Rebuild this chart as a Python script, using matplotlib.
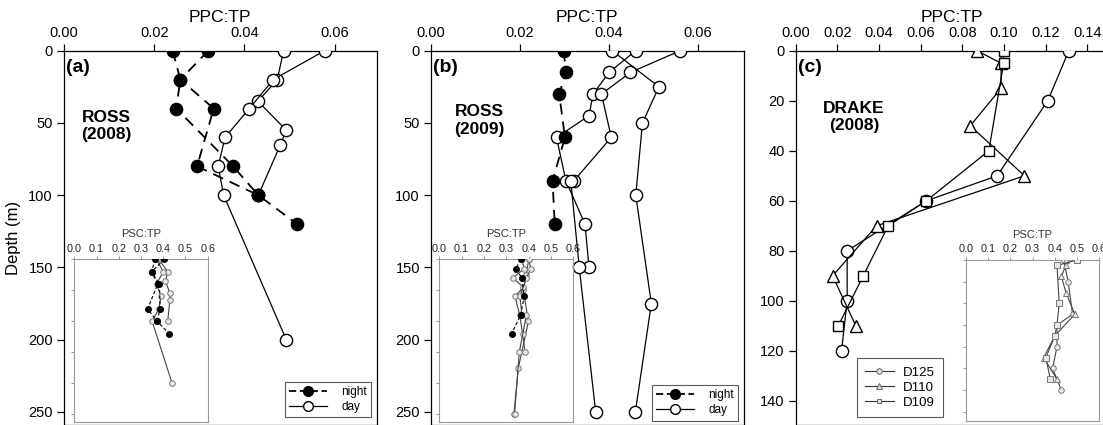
import matplotlib
matplotlib.use("Agg")
import matplotlib.pyplot as plt
from matplotlib.lines import Line2D
from matplotlib.ticker import FormatStrFormatter, MultipleLocator

plt.rcParams['font.family'] = ['Liberation Sans', 'DejaVu Sans']

# ---------------- Panel (a) ROSS 2008 : PPC:TP ----------------
a_night1_depth = [0, 20, 40, 80, 100]
a_night1_ppc = [0.0241, 0.0258, 0.0249, 0.0375, 0.0431]
a_night2_depth = [0, 20, 40, 80, 100, 120]
a_night2_ppc = [0.0320, 0.0258, 0.0332, 0.0295, 0.0431, 0.0517]
a_day1_depth = [0, 20, 35, 55, 65, 100]
a_day1_ppc = [0.0487, 0.0473, 0.0430, 0.0493, 0.0480, 0.0431]
a_day2_depth = [0, 20, 40, 60, 80, 100, 200]
a_day2_ppc = [0.0578, 0.0464, 0.0411, 0.0357, 0.0342, 0.0354, 0.0493]
# inset (a) PSC:TP
a_night1_psc = [0.363, 0.348, 0.383, 0.386, 0.372]
a_night2_psc = [0.405, 0.348, 0.375, 0.330, 0.372, 0.428]
a_day1_psc = [0.38, 0.42, 0.41, 0.43, 0.43, 0.42]
a_day2_psc = [0.37, 0.40, 0.37, 0.39, 0.38, 0.35, 0.44]

# ---------------- Panel (b) ROSS 2009 ----------------
b_night_depth = [0, 15, 30, 60, 90, 120]
b_night_ppc = [0.0298, 0.0303, 0.0288, 0.0301, 0.0273, 0.0278]
b_day1_depth = [0, 25, 50, 100, 175, 250]
b_day1_ppc = [0.0407, 0.0512, 0.0475, 0.0460, 0.0495, 0.0459]
b_day2_depth = [0, 15, 30, 45, 60, 90, 120, 150]
b_day2_ppc = [0.0460, 0.0400, 0.0364, 0.0355, 0.0282, 0.0303, 0.0346, 0.0355]
b_day3_depth = [0, 15, 30, 60, 90, 90, 150, 250]
b_day3_ppc = [0.0560, 0.0448, 0.0383, 0.0405, 0.0321, 0.0314, 0.0333, 0.0370]
# inset (b)
b_night_psc = [0.364, 0.343, 0.369, 0.380, 0.364, 0.324]
b_day1_psc = [0.40, 0.39, 0.376, 0.399, 0.354, 0.334]
b_day2_psc = [0.37, 0.38, 0.33, 0.376, 0.339, 0.36, 0.373, 0.384]
b_day3_psc = [0.40, 0.41, 0.39, 0.361, 0.37, 0.39, 0.358, 0.337]

# ---------------- Panel (c) DRAKE 2008 ----------------
c_d125_depth = [0, 20, 50, 60, 80, 100, 120]
c_d125_ppc = [0.1311, 0.1210, 0.0967, 0.0627, 0.0247, 0.0247, 0.0220]
c_d110_depth = [0, 5, 15, 30, 50, 70, 90, 110]
c_d110_ppc = [0.0871, 0.0986, 0.0986, 0.0838, 0.1098, 0.0388, 0.0177, 0.0289]
c_d109_depth = [0, 5, 40, 60, 70, 90, 110]
c_d109_ppc = [0.0998, 0.0998, 0.0927, 0.0627, 0.0444, 0.0324, 0.0204]
# inset (c)
c_d125_psc = [0.44, 0.46, 0.48, 0.41, 0.41, 0.39, 0.43]
c_d110_psc = [0.45, 0.45, 0.43, 0.45, 0.49, 0.40, 0.35, 0.41]
c_d109_psc = [0.50, 0.41, 0.42, 0.41, 0.40, 0.36, 0.38]

W, H = 1103, 425
fig = plt.figure(figsize=(W / 100, H / 100), dpi=100)


def fx(px):
    return px / W


def fy(py):
    return 1 - py / H


AX_W = 312.5
TOP = 50.7


def main_axes(left_px, xmax, ymax, yticks, xticks):
    ax = fig.add_axes([fx(left_px), 0, AX_W / W, fy(TOP)])
    ax.set_xlim(0, xmax)
    ax.set_ylim(ymax, 0)
    ax.xaxis.tick_top()
    ax.set_xticks(xticks)
    ax.xaxis.set_major_formatter(FormatStrFormatter('%.2f'))
    ax.set_yticks(yticks)
    ax.tick_params(axis='both', labelsize=10.5, length=5, width=0.9, direction='out')
    ax.tick_params(axis='x', pad=3)
    ax.tick_params(axis='y', pad=3)
    for s in ax.spines.values():
        s.set_linewidth(0.9)
    ax.text(0.5, 1 + (TOP - 17) / (H - TOP), 'PPC:TP', transform=ax.transAxes,
            ha='center', va='center', fontsize=12.5)
    return ax


night_kw = dict(color='black', lw=1.3, dashes=(6, 4), marker='o', ms=8.8,
                mfc='black', mec='black', zorder=4)
day_kw = dict(color='black', lw=0.9, marker='o', ms=8.8, mfc='white',
              mec='black', mew=1.0, zorder=3)


def inset_axes(left_px, right_px, top_px, bottom_px, ymax, ystep):
    ia = fig.add_axes([fx(left_px), fy(bottom_px), (right_px - left_px) / W,
                       (bottom_px - top_px) / H])
    ia.set_facecolor('none')
    ia.set_xlim(0, 0.6)
    ia.set_ylim(ymax, 0)
    ia.xaxis.tick_top()
    ia.set_xticks([0, 0.1, 0.2, 0.3, 0.4, 0.5, 0.6])
    ia.xaxis.set_major_formatter(FormatStrFormatter('%.1f'))
    ia.yaxis.set_major_locator(MultipleLocator(ystep))
    ia.set_yticklabels([])
    ia.tick_params(axis='both', labelsize=7.8, length=2, width=0.6,
                   color='#888888', pad=2, labelcolor='#222222')
    for s in ia.spines.values():
        s.set_linewidth(0.8)
        s.set_color('#999999')
    ia.set_title('PSC:TP', fontsize=8, pad=5, color='#333333')
    return ia


in_night_kw = dict(color='black', lw=0.8, dashes=(3, 2), marker='o', ms=4,
                   mfc='black', mec='black', zorder=4)
in_day_kw = dict(color='#444444', lw=0.8, marker='o', ms=4, mfc='#e8e8e8',
                 mec='#777777', mew=0.7, zorder=3)

# ================= (a) =================
ax = main_axes(64, 0.0693, 259.0, [0, 50, 100, 150, 200, 250], [0, 0.02, 0.04, 0.06])
ax.plot(a_day1_ppc, a_day1_depth, **day_kw)
ax.plot(a_day2_ppc, a_day2_depth, **day_kw)
ax.plot(a_night1_ppc, a_night1_depth, **night_kw)
ax.plot(a_night2_ppc, a_night2_depth, **night_kw)
ax.text(0.006, (H - 68) / (H - TOP), '(a)', transform=ax.transAxes, ha='left',
        va='center', fontsize=14, fontweight='bold')
ax.text(0.137, 0.799, 'ROSS\n(2008)', transform=ax.transAxes, ha='center',
        va='center', fontsize=12.5, fontweight='bold', linespacing=1.2)
h_night = Line2D([], [], color='black', lw=1.3, dashes=(4, 2), marker='o', ms=7,
                 mfc='black', mec='black')
h_day = Line2D([], [], color='black', lw=0.9, marker='o', ms=7, mfc='white', mec='black')
leg_kw = dict(loc='lower right', fontsize=8.5, frameon=True, fancybox=False,
              edgecolor='#333333', handlelength=3.2, borderaxespad=0,
              borderpad=0.35, labelspacing=0.25, handletextpad=1.2)
leg = ax.legend([h_night, h_day], ['night', 'day'], bbox_to_anchor=(0.983, 0.022), **leg_kw)
leg.get_frame().set_linewidth(0.8)

ia = inset_axes(74.3, 207.7, 259.3, 421.7, 262, 50)
ia.plot(a_day1_psc, a_day1_depth, **in_day_kw)
ia.plot(a_day2_psc, a_day2_depth, **in_day_kw)
ia.plot(a_night1_psc, a_night1_depth, **in_night_kw)
ia.plot(a_night2_psc, a_night2_depth, **in_night_kw)

fig.text(fx(14), fy(238), 'Depth (m)', rotation=90, ha='center', va='center', fontsize=12)

# ================= (b) =================
bx = main_axes(431, 0.0702, 259.0, [0, 50, 100, 150, 200, 250], [0, 0.02, 0.04, 0.06])
bx.plot(b_day1_ppc, b_day1_depth, **day_kw)
bx.plot(b_day2_ppc, b_day2_depth, **day_kw)
bx.plot(b_day3_ppc, b_day3_depth, **day_kw)
bx.plot(b_night_ppc, b_night_depth, **night_kw)
bx.text(0.006, (H - 67) / (H - TOP), '(b)', transform=bx.transAxes, ha='left',
        va='center', fontsize=14, fontweight='bold')
bx.text(0.154, 0.814, 'ROSS\n(2009)', transform=bx.transAxes, ha='center',
        va='center', fontsize=12.5, fontweight='bold', linespacing=1.2)
leg = bx.legend([h_night, h_day], ['night', 'day'], bbox_to_anchor=(0.983, 0.012), **leg_kw)
leg.get_frame().set_linewidth(0.8)

ib = inset_axes(439.3, 573.3, 259.3, 421.7, 262, 50)
ib.plot(b_day1_psc, b_day1_depth, **in_day_kw)
ib.plot(b_day2_psc, b_day2_depth, **in_day_kw)
ib.plot(b_day3_psc, b_day3_depth, **in_day_kw)
ib.plot(b_night_psc, b_night_depth, **in_night_kw)

# ================= (c) =================
cx = main_axes(795.7, 0.15, 149.6, [0, 20, 40, 60, 80, 100, 120, 140],
               [0, 0.02, 0.04, 0.06, 0.08, 0.10, 0.12, 0.14])
ckw = dict(color='black', lw=0.9, mfc='white', mec='black', mew=1.0, zorder=3)
cx.plot(c_d125_ppc, c_d125_depth, marker='o', ms=8.8, **ckw)
cx.plot(c_d110_ppc, c_d110_depth, marker='^', ms=9, **ckw)
cx.plot(c_d109_ppc, c_d109_depth, marker='s', ms=7, **ckw)
cx.text(0.008, (H - 67) / (H - TOP), '(c)', transform=cx.transAxes, ha='left',
        va='center', fontsize=14, fontweight='bold')
cx.text(0.186, 0.823, 'DRAKE\n(2008)', transform=cx.transAxes, ha='center',
        va='center', fontsize=12.5, fontweight='bold', linespacing=1.2)
lkw = dict(color='#333333', lw=0.8, mfc='#dddddd', mec='#666666', mew=0.7)
hc = [Line2D([], [], marker='o', ms=4, **lkw),
      Line2D([], [], marker='^', ms=4, **lkw),
      Line2D([], [], marker='s', ms=3.5, **lkw)]
leg = cx.legend(hc, ['D125', 'D110', 'D109'], loc='lower left',
                bbox_to_anchor=(0.195, 0.022), fontsize=9.5, frameon=True,
                fancybox=False, edgecolor='#333333', handlelength=2.2,
                borderaxespad=0, borderpad=0.6, labelspacing=0.22,
                handletextpad=0.7)
leg.get_frame().set_linewidth(0.8)

ic = inset_axes(965.7, 1099.3, 260, 421, 148.4, 20)
ikw = dict(color='#444444', lw=0.8, mfc='#e8e8e8', mec='#777777', mew=0.7, zorder=3)
ic.plot(c_d125_psc, c_d125_depth, marker='o', ms=4, **ikw)
ic.plot(c_d110_psc, c_d110_depth, marker='^', ms=4.5, **ikw)
ic.plot(c_d109_psc, c_d109_depth, marker='s', ms=3.8, **ikw)

fig.savefig('out.png', dpi=100)
